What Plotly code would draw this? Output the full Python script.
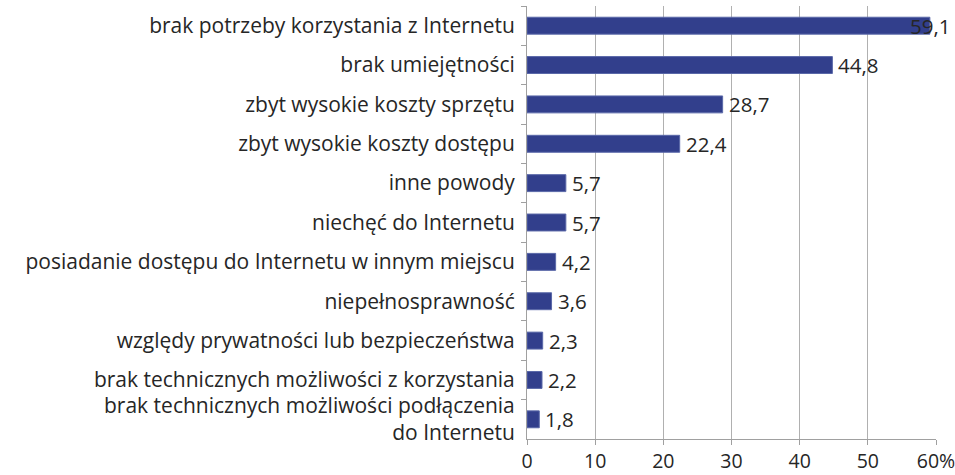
import plotly.graph_objects as go

categories = [
    "brak potrzeby korzystania z Internetu",
    "brak umiejętności",
    "zbyt wysokie koszty sprzętu",
    "zbyt wysokie koszty dostępu",
    "inne powody",
    "niechęć do Internetu",
    "posiadanie dostępu do Internetu w innym miejscu",
    "niepełnosprawność",
    "względy prywatności lub bezpieczeństwa",
    "brak technicznych możliwości z korzystania",
    "brak technicznych możliwości podłączenia<br>do Internetu",
]
values = [59.1, 44.8, 28.7, 22.4, 5.7, 5.7, 4.2, 3.6, 2.3, 2.2, 1.8]
x_tickvals = [0, 10, 20, 30, 40, 50, 60]
x_ticktext = ["0", "10", "20", "30", "40", "50", "60%"]

FONT = "Open Sans"
TXT = "#262626"

fig = go.Figure()
fig.add_trace(go.Bar(
    y=categories, x=values, orientation="h",
    marker=dict(color="#323F8C", line=dict(color="#5A68A8", width=1)),
    width=0.43, hoverinfo="skip",
))

for c, v in zip(categories, values):
    lab = f"{v:.1f}".replace(".", ",")
    if v > 55:
        fig.add_annotation(x=v, y=c, text=lab, showarrow=False, xanchor="center",
                           font=dict(family=FONT, size=20.5, color=TXT))
    else:
        fig.add_annotation(x=v, y=c, text=lab, showarrow=False, xanchor="left", xshift=4,
                           font=dict(family=FONT, size=20.5, color=TXT))

fig.update_layout(
    width=955, height=475,
    margin=dict(l=527, r=19, t=6, b=36, autoexpand=False),
    paper_bgcolor="white", plot_bgcolor="white",
    showlegend=False,
    font=dict(family=FONT, size=20, color=TXT),
    xaxis=dict(range=[0, 60], tickvals=x_tickvals, ticktext=x_ticktext,
               showgrid=True, gridcolor="#B0B0B0", gridwidth=1,
               showline=True, linecolor="#A0A0A0", linewidth=1,
               ticks="outside", ticklen=5, tickcolor="#A0A0A0",
               ticklabeloverflow="allow",
               tickfont=dict(family=FONT, size=19.5, color=TXT), zeroline=False,
               automargin=False, fixedrange=True),
    yaxis=dict(autorange="reversed", type="category", tickson="boundaries",
               showline=True, linecolor="#A0A0A0", linewidth=1,
               ticks="outside", ticklen=5, tickcolor="#A0A0A0",
               ticklabelstandoff=7,
               tickfont=dict(family=FONT, size=21, color=TXT), showgrid=False,
               automargin=False, fixedrange=True),
    bargap=0.57,
)

fig.write_html("out.html", config={"displayModeBar": False},
               post_script="document.body.style.margin='0px';")
